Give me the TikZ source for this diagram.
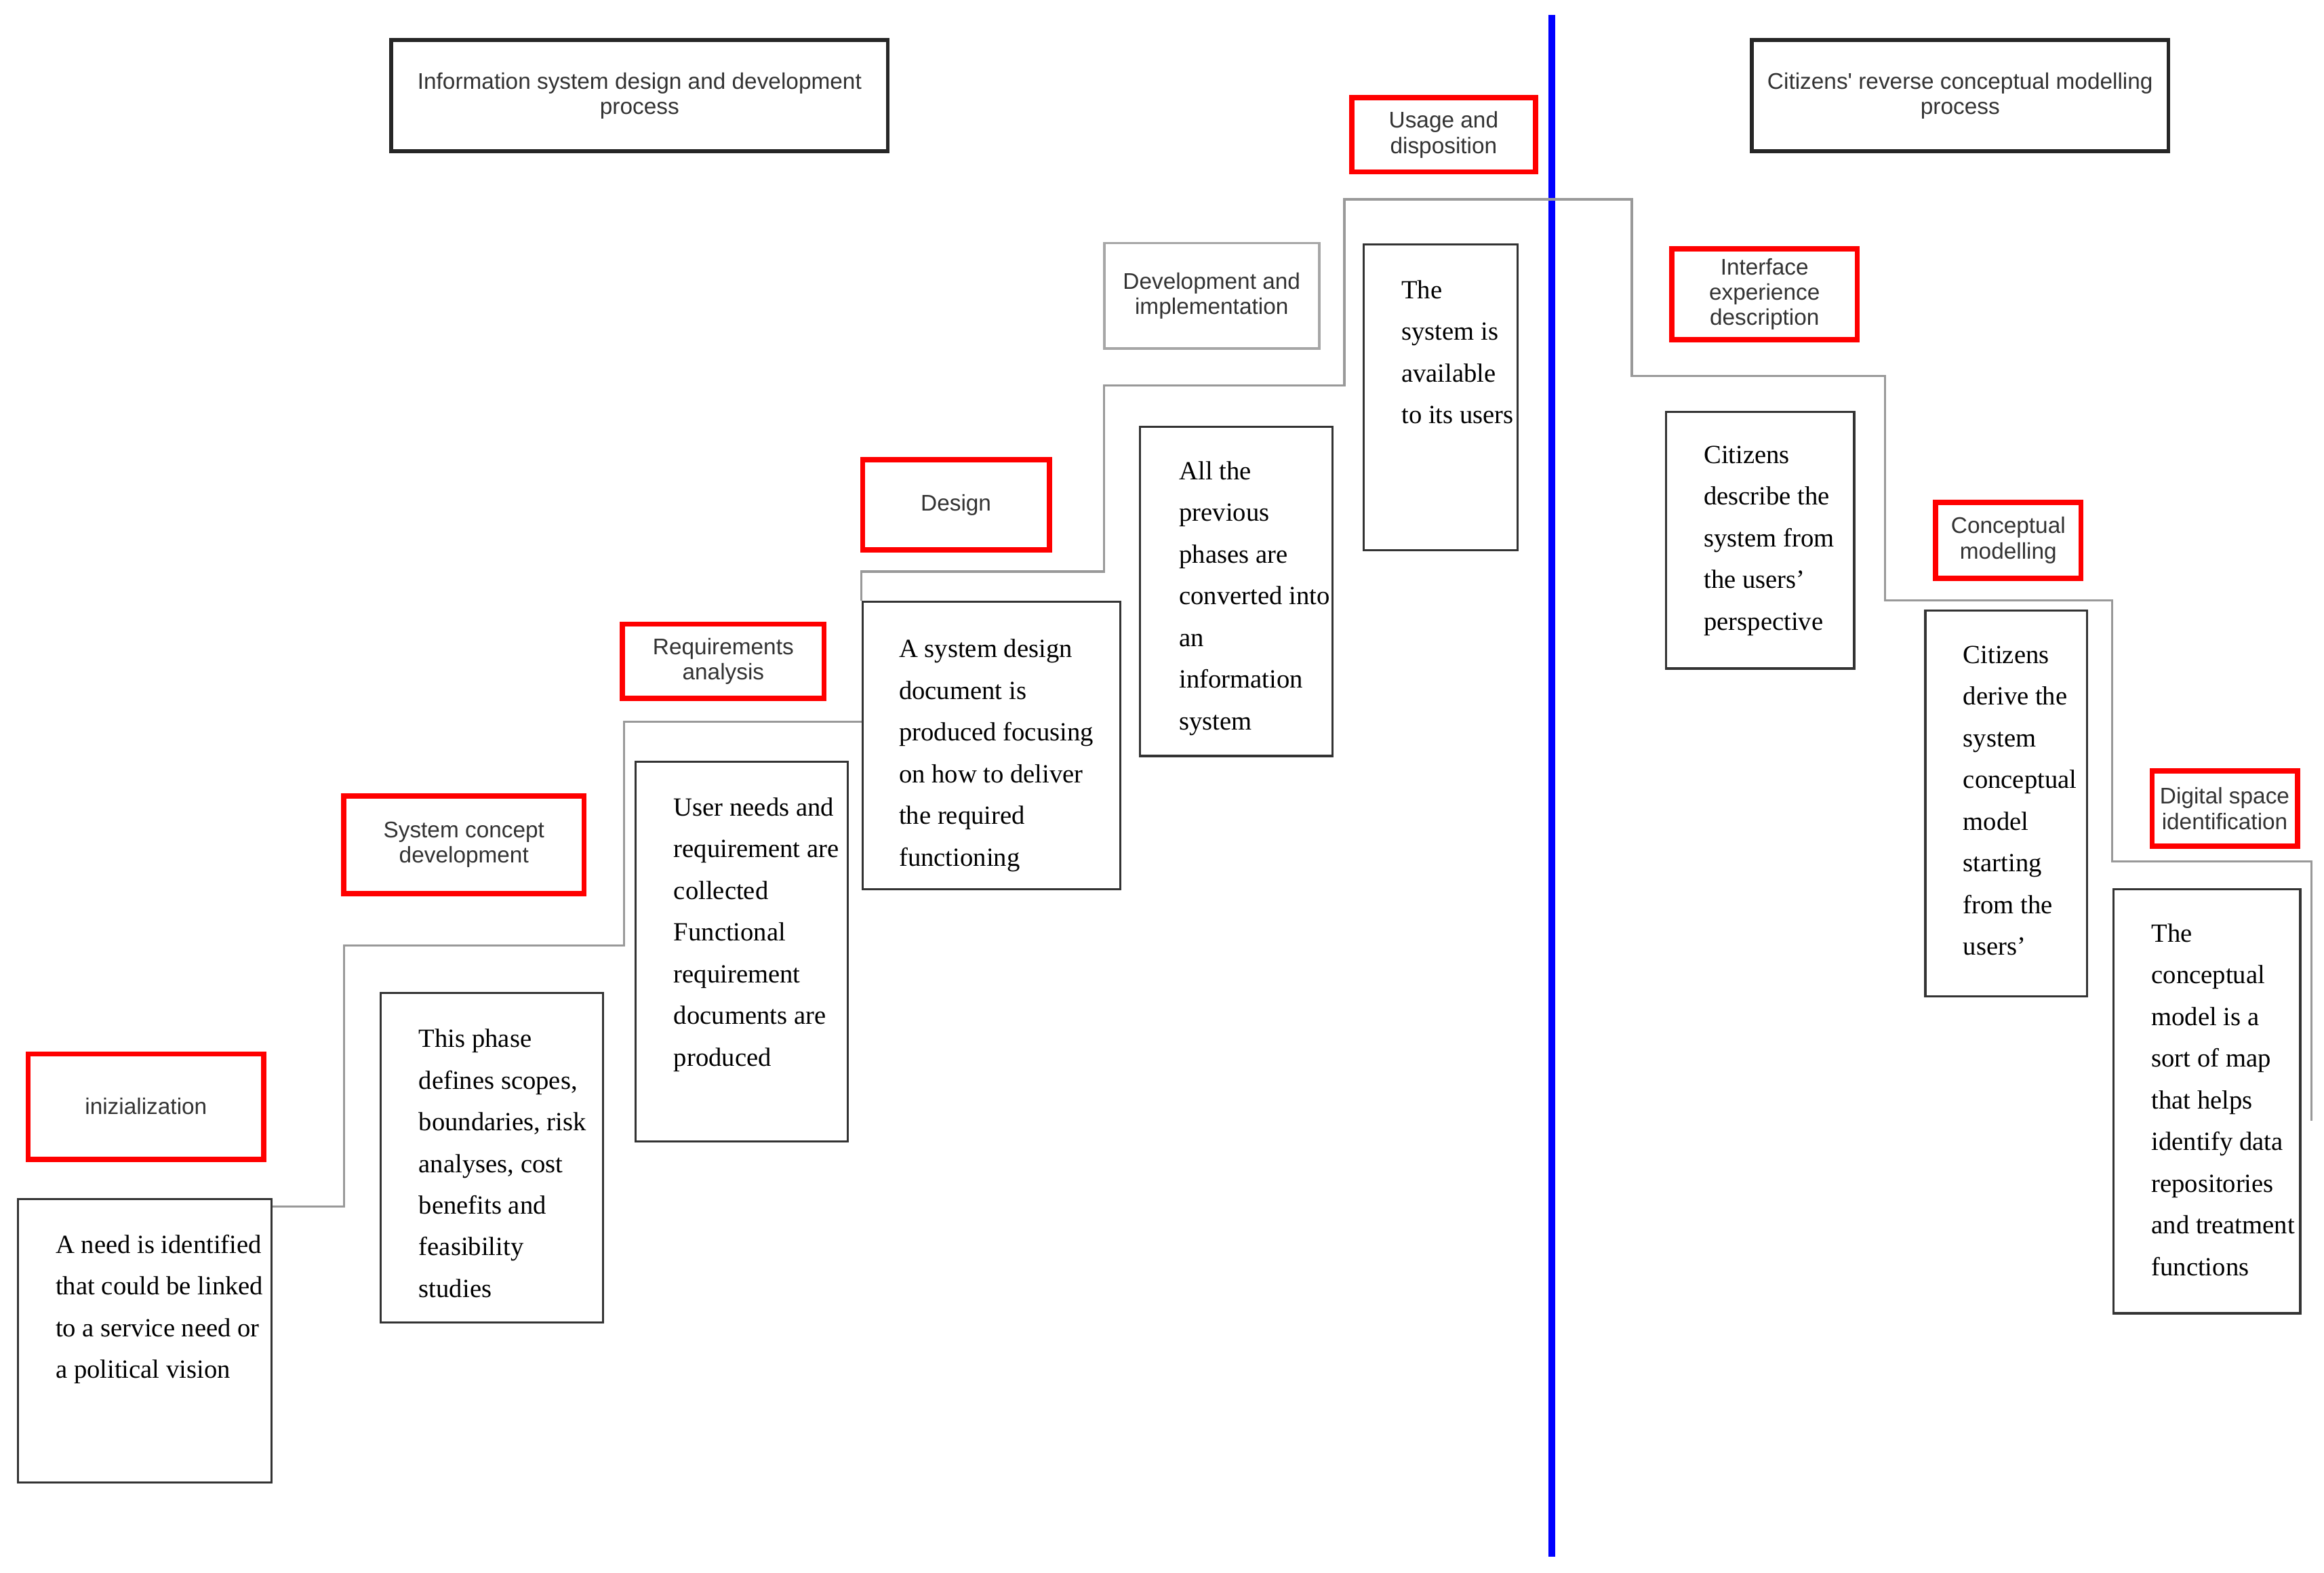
\documentclass[tikz,border=0pt]{standalone}
\usepackage{fontspec}
\setmainfont{Liberation Serif}
\newfontfamily\labfont{Liberation Sans}
\usetikzlibrary{fit,calc}
\tikzset{
  lbl/.style={font=\labfont\fontsize{9.5}{10.6}\selectfont, text=black!80, align=center, inner sep=0pt},
  redbox/.style={draw=red, line width=2.2pt, inner sep=0pt},
  hdrbox/.style={draw=black!85, line width=1.6pt, inner sep=0pt},
  graybox/.style={draw=black!35, line width=1pt, inner sep=0pt},
  txtbox/.style={draw=black!80, line width=0.9pt, inner sep=0pt},
  body/.style={font=\fontsize{11}{17.5}\selectfont, align=left, inner sep=0pt, anchor=north west, text=black},
  stair/.style={draw=black!40, line width=0.9pt},
  divider/.style={draw=blue, line width=2.7pt}
}
\newcommand\fs{\rule{0pt}{8pt}}
\begin{document}
\begin{tikzpicture}[x=0.021862cm, y=-0.021862cm]
\useasboundingbox[fill=white] (0,0) rectangle (1568,1061);

% headers
\node[hdrbox, fit={(264,27) (599,102)}] (h1) {};
\node[lbl] (h1t) at (h1.center) {Information system design and development\\process};
\node[hdrbox, fit={(1182,27) (1463,102)}] (h2) {};
\node[lbl] (h2t) at (h2.center) {Citizens' reverse conceptual modelling\\process};

% divider
\draw[divider] (1047,10) -- (1047,1050);

% phase labels
\node[redbox, fit={(19,711) (178,782)}] (l1) {};
\node[lbl] (l1t) at (l1.center) {inizialization};
\node[redbox, fit={(232,537) (394,603)}] (l2) {};
\node[lbl] (l2t) at (l2.center) {System concept\\development};
\node[redbox, fit={(420,421) (556,471)}] (l3) {};
\node[lbl] (l3t) at (l3.center) {Requirements\\analysis};
\node[redbox, fit={(582,310) (708,371)}] (l4) {};
\node[lbl] (l4t) at (l4.center) {Design};
\node[graybox, fit={(745,164) (890,235)}] (l5) {};
\node[lbl] (l5t) at (l5.center) {Development and\\implementation};
\node[redbox, fit={(912,66) (1036,116)}] (l6) {};
\node[lbl] (l6t) at (l6.center) {Usage and\\disposition};
\node[redbox, fit={(1128,168) (1253,229)}] (l7) {};
\node[lbl] (l7t) at (l7.center) {Interface\\experience\\description};
\node[redbox, fit={(1306,339) (1404,390)}] (l8) {};
\node[lbl] (l8t) at (l8.center) {Conceptual\\modelling};
\node[redbox, fit={(1452,520) (1550,571)}] (l9) {};
\node[lbl] (l9t) at (l9.center) {Digital space\\identification};

% text boxes
\node[txtbox, fit={(12,809) (183,1000)}] (t1) {};
\node[txtbox, fit={(257,670) (407,892)}] (t2) {};
\node[txtbox, fit={(429,514) (572,770)}] (t3) {};
\node[txtbox, fit={(582,406) (756,600)}] (t4) {};
\node[txtbox, fit={(769,288) (899,510)}] (t5) {};
\node[txtbox, fit={(920,165) (1024,371)}] (t6) {};
\node[txtbox, fit={(1124,278) (1251,451)}] (t7) {};
\node[txtbox, fit={(1299,412) (1408,672)}] (t8) {};
\node[txtbox, fit={(1426,600) (1552,886)}] (t9) {};

\node[body] (b1) at ($(t1.north west)+(26,24)$) {\fs A need is identified\\that could be linked\\to a service need or\\a political vision};
\node[body] (b2) at ($(t2.north west)+(26,24)$) {\fs This phase\\defines scopes,\\boundaries, risk\\analyses, cost\\benefits and\\feasibility\\studies};
\node[body] (b3) at ($(t3.north west)+(26,24)$) {\fs User needs and\\requirement are\\collected\\Functional\\requirement\\documents are\\produced};
\node[body] (b4) at ($(t4.north west)+(25,25)$) {\fs A system design\\document is\\produced focusing\\on how to deliver\\the required\\functioning};
\node[body] (b5) at ($(t5.north west)+(27,23)$) {\fs All the\\previous\\phases are\\converted into\\an\\information\\system};
\node[body] (b6) at ($(t6.north west)+(26,24)$) {\fs The\\system is\\available\\to its users};
\node[body] (b7) at ($(t7.north west)+(26,22)$) {\fs Citizens\\describe the\\system from\\the users’\\perspective};
\node[body] (b8) at ($(t8.north west)+(26,23)$) {\fs Citizens\\derive the\\system\\conceptual\\model\\starting\\from the\\users’};
\node[body] (b9) at ($(t9.north west)+(26,23)$) {\fs The\\conceptual\\model is a\\sort of map\\that helps\\identify data\\repositories\\and treatment\\functions};

% staircase
\coordinate (k1) at (232,814);
\coordinate (k2) at (421,638);
\coordinate (k3) at (582,487);
\coordinate (kend) at (1559.5,756);
\draw[stair] (t1.east |- k1) -- (k1) |- (k2) |- (t4.west |- k3);
\draw[stair] (t4.north west) |- (745,385.6) |- (907,260) |- (1101,134.5) |- (1272,253.5) |- (1425,405) |- (1559.5,581) -- (kend);
\end{tikzpicture}
\end{document}
